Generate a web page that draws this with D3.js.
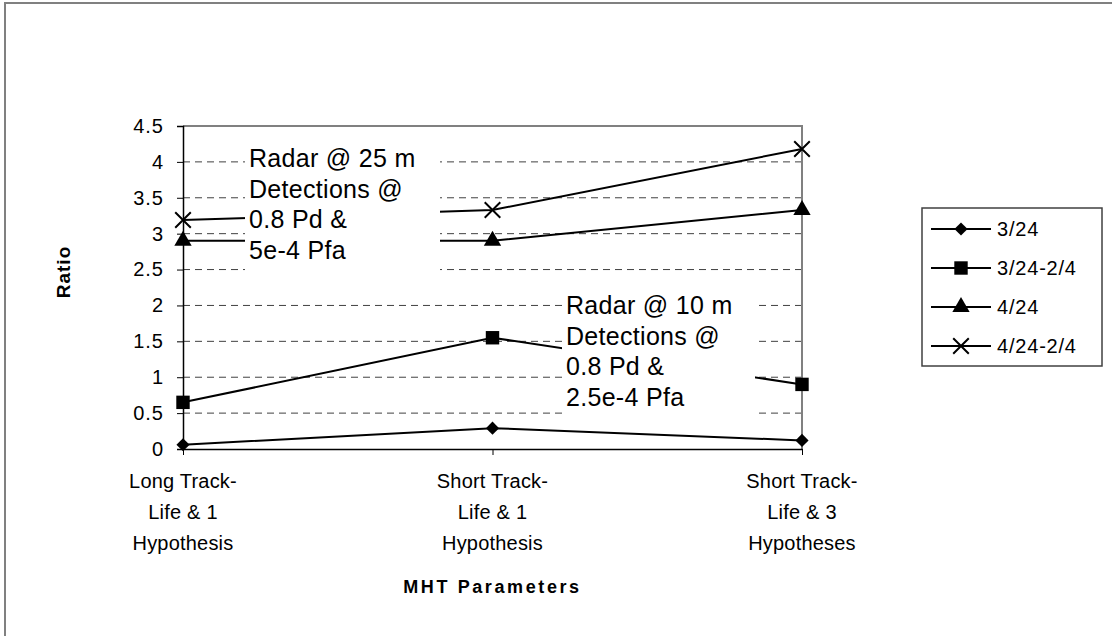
<!DOCTYPE html>
<html>
<head>
<meta charset="utf-8">
<script src="https://cdn.jsdelivr.net/npm/d3@7"></script>
<style>
  body { margin: 0; background: #fff; }
  text { font-family: Arial, "Liberation Sans", sans-serif; fill: #000; }
</style>
</head>
<body>
<div id="the_board"></div>
<script>
// categories and series
var categories = [
  ["Long Track-", "Life & 1", "Hypothesis"],
  ["Short Track-", "Life & 1", "Hypothesis"],
  ["Short Track-", "Life & 3", "Hypotheses"]
];
var seriesNames = ["3/24", "3/24-2/4", "4/24", "4/24-2/4"];
var values_3_24 = [0.06, 0.29, 0.12];
var values_3_24_2_4 = [0.65, 1.55, 0.9];
var values_4_24 = [2.9, 2.9, 3.33];
var values_4_24_2_4 = [3.19, 3.33, 4.18];
var yTicks = [0, 0.5, 1, 1.5, 2, 2.5, 3, 3.5, 4, 4.5];
var note25 = ["Radar @ 25 m", "Detections @", "0.8 Pd &", "5e-4 Pfa"];
var note10 = ["Radar @ 10 m", "Detections @", "0.8 Pd &", "2.5e-4 Pfa"];

var series = [
  { name: seriesNames[0], values: values_3_24, symbol: "diamond" },
  { name: seriesNames[1], values: values_3_24_2_4, symbol: "square" },
  { name: seriesNames[2], values: values_4_24, symbol: "triangle" },
  { name: seriesNames[3], values: values_4_24_2_4, symbol: "cross" }
];

var W = 1112, H = 636;
var margin = { top: 126, right: 310, bottom: 187, left: 183 },
  width_board = W - margin.left - margin.right,
  height_board = H - margin.top - margin.bottom;

var svg = d3.select("#the_board")
  .append("svg")
  .attr("width", W)
  .attr("height", H);

// outer chart frame (right/bottom fall outside the picture)
svg.append("rect")
  .attr("x", 5).attr("y", 3)
  .attr("width", 1200).attr("height", 800)
  .attr("fill", "none")
  .attr("stroke", "#808080")
  .attr("stroke-width", 2);

var g = svg.append("g")
  .attr("transform", "translate(" + margin.left + "," + margin.top + ")");

var x = d3.scalePoint()
  .domain(d3.range(categories.length))
  .range([0, width_board]);

var y = d3.scaleLinear()
  .domain([0, 4.5])
  .range([height_board, 0]);

// gridlines
g.selectAll(".grid")
  .data(yTicks.filter(function(d) { return d > 0 && d < 4.5; }))
  .enter()
  .append("line")
  .attr("x1", 0).attr("x2", width_board)
  .attr("y1", function(d) { return y(d); })
  .attr("y2", function(d) { return y(d); })
  .attr("stroke", "#404040")
  .attr("stroke-width", 1)
  .attr("stroke-dasharray", "7,5");

// plot area border top / right
g.append("path")
  .attr("d", "M0," + y(4.5) + "H" + width_board + "V" + y(0))
  .attr("fill", "none")
  .attr("stroke", "#808080")
  .attr("stroke-width", 2);

// Y axis
var yAxis = g.append("g")
  .call(d3.axisLeft(y).tickValues(yTicks).tickSize(6).tickPadding(13)
    .tickFormat(function(d) { return String(d); }));
yAxis.select(".domain").attr("stroke", "#000").attr("stroke-width", 1.5);
yAxis.selectAll(".tick line").attr("stroke", "#000");
yAxis.selectAll("text")
  .style("font-size", "20px")
  .style("letter-spacing", "1px")
  .style("font-family", "Arial, 'Liberation Sans', sans-serif");

// X axis
var xAxis = g.append("g")
  .attr("transform", "translate(0," + height_board + ")")
  .call(d3.axisBottom(x).tickSize(6).tickSizeOuter(0).tickFormat(""));
xAxis.select(".domain").attr("stroke", "#000").attr("stroke-width", 1.5);
xAxis.selectAll(".tick line").attr("stroke", "#000");

g.selectAll(".catlabel")
  .data(categories)
  .enter()
  .append("text")
  .attr("class", "catlabel")
  .attr("text-anchor", "middle")
  .style("font-size", "20px")
  .style("letter-spacing", "0.2px")
  .each(function(lines, i) {
    d3.select(this).selectAll("tspan")
      .data(lines)
      .enter()
      .append("tspan")
      .attr("x", x(i))
      .attr("y", function(d, j) { return height_board + 39 + j * 31; })
      .text(function(d) { return d; });
  });

// axis titles
svg.append("text")
  .attr("x", margin.left + width_board / 2)
  .attr("y", 593)
  .attr("text-anchor", "middle")
  .style("font-size", "18px")
  .style("font-weight", "bold")
  .style("letter-spacing", "2.6px")
  .text("MHT Parameters");

svg.append("text")
  .attr("transform", "translate(70,272) rotate(-90)")
  .attr("text-anchor", "middle")
  .style("font-size", "19px")
  .style("font-weight", "bold")
  .style("letter-spacing", "1px")
  .text("Ratio");

// lines
var line = d3.line()
  .x(function(d, i) { return x(i); })
  .y(function(d) { return y(d); });

g.selectAll(".series")
  .data(series)
  .enter()
  .append("path")
  .attr("d", function(d) { return line(d.values); })
  .attr("fill", "none")
  .attr("stroke", "#000")
  .attr("stroke-width", 2);

function symbolPath(kind) {
  if (kind === "diamond") return d3.symbol().type(d3.symbolDiamond2).size(110)();
  if (kind === "square") return d3.symbol().type(d3.symbolSquare).size(180)();
  if (kind === "triangle") return d3.symbol().type(d3.symbolTriangle).size(130)();
  return d3.symbol().type(d3.symbolX).size(160)();
}

function drawMarker(sel, kind) {
  sel.append("path")
    .attr("d", symbolPath(kind))
    .attr("fill", kind === "cross" ? "none" : "#000")
    .attr("stroke", "#000")
    .attr("stroke-width", kind === "cross" ? 2 : 0);
}

series.forEach(function(s) {
  s.values.forEach(function(v, i) {
    var m = g.append("g")
      .attr("transform", "translate(" + x(i) + "," + y(v) + ")");
    drawMarker(m, s.symbol);
  });
});

// text boxes with white fill, covering lines and grid
function noteBox(lines, bx, by, bw, bh) {
  var nb = svg.append("g");
  nb.append("rect")
    .attr("x", bx).attr("y", by)
    .attr("width", bw).attr("height", bh)
    .attr("fill", "#fff");
  nb.append("text")
    .style("font-size", "25px")
    .style("letter-spacing", "0.3px")
    .selectAll("tspan")
    .data(lines)
    .enter()
    .append("tspan")
    .attr("x", bx + 4)
    .attr("y", function(d, j) { return by + 27 + j * 30.5; })
    .text(function(d) { return d; });
}
noteBox(note25, 245, 140, 195, 144);
noteBox(note10, 562, 287, 193, 133);

// legend
var legend = svg.append("g");
legend.append("rect")
  .attr("x", 922).attr("y", 208)
  .attr("width", 180).attr("height", 158)
  .attr("fill", "#fff")
  .attr("stroke", "#404040")
  .attr("stroke-width", 1.5);

series.forEach(function(s, i) {
  var ly = 229 + i * 39;
  legend.append("line")
    .attr("x1", 931).attr("x2", 991)
    .attr("y1", ly).attr("y2", ly)
    .attr("stroke", "#000").attr("stroke-width", 2);
  var m = legend.append("g").attr("transform", "translate(961," + ly + ")");
  drawMarker(m, s.symbol);
  legend.append("text")
    .attr("x", 997).attr("y", ly + 7)
    .style("font-size", "20px")
    .style("letter-spacing", "0.8px")
    .text(s.name);
});
</script>
</body>
</html>
